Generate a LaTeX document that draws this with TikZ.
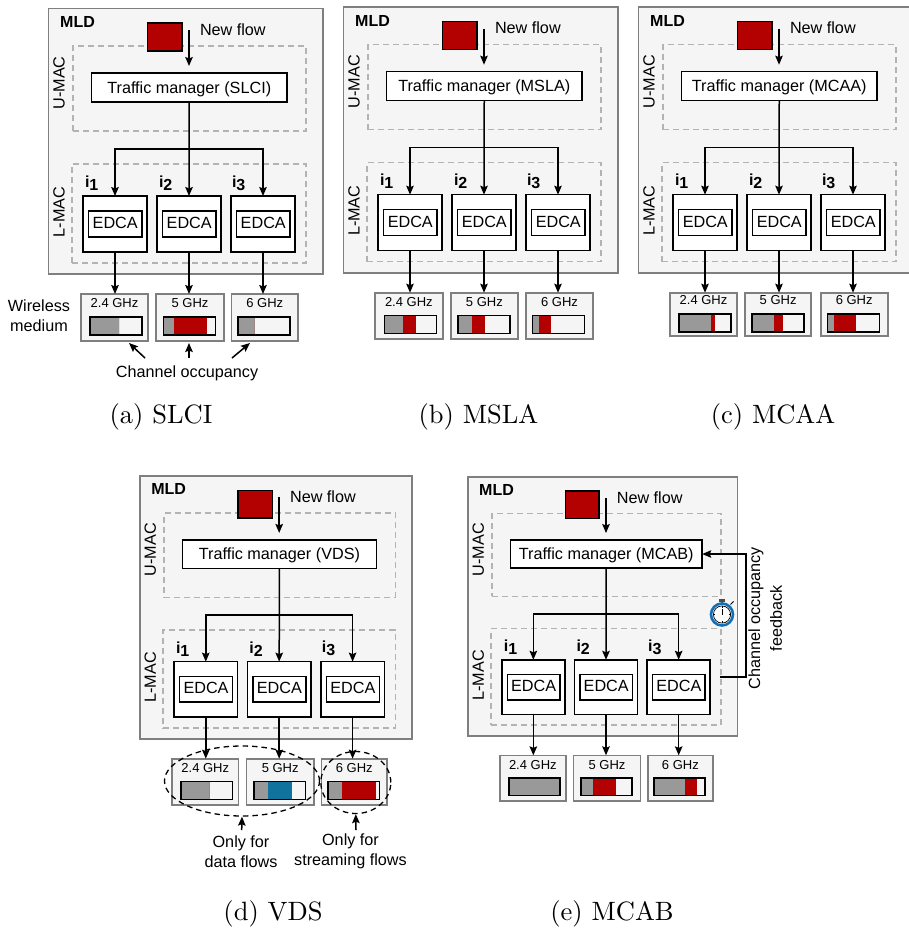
\documentclass[tikz,border=0pt]{standalone}
\usepackage{fontspec}
\setsansfont{Liberation Sans}
\usetikzlibrary{arrows.meta,shapes.geometric}
\definecolor{pgbg}{HTML}{F5F5F5}
\definecolor{edgegray}{HTML}{7F7F7F}
\definecolor{dashgray}{HTML}{B3B3B3}
\definecolor{occgray}{HTML}{999999}
\definecolor{flowred}{HTML}{B30000}
\definecolor{flowblue}{HTML}{10739E}
\definecolor{watchblue}{HTML}{1170B8}
\tikzset{
  txt/.style={inner sep=0pt,outer sep=0pt,font=\sffamily\fontsize{16.2}{18}\selectfont,align=center},
  smalltxt/.style={inner sep=0pt,outer sep=0pt,font=\sffamily\fontsize{13}{14}\selectfont},
  boldtxt/.style={inner sep=0pt,outer sep=0pt,font=\sffamily\bfseries\fontsize{16}{18}\selectfont},
  mldbox/.style={draw=edgegray,fill=pgbg,line width=1.7pt},
  macbox/.style={draw=dashgray,dash pattern=on 6pt off 4pt,line width=1.4pt},
  whitebox/.style={draw=black,fill=white,line width=1.5pt},
  chanframe/.style={draw=edgegray,fill=pgbg,line width=1.7pt},
  flowbox/.style={draw=black,fill=flowred,line width=1.3pt},
  conn/.style={draw=black,line width=1.5pt},
  arr/.style={conn,-{Stealth[length=9pt,width=7.5pt,inset=1.5pt]}},
  capt/.style={scale=2.65,inner sep=0pt,font=\rmfamily},
  ring/.style={draw=black,dash pattern=on 5.5pt off 4pt,line width=1.3pt},
}
\newcommand{\boxat}[7]{%
  \pgfmathsetmacro\myw{abs(#5-#3)*\sx}\pgfmathsetmacro\myh{abs(#6-#4)*\sy}%
  \node[#2,minimum width=\myw pt,minimum height=\myh pt,inner sep=0pt,outer sep=0pt,font=\sffamily\fontsize{16.2}{18}\selectfont] (#1) at ({(#3+#5)/2},{(#4+#6)/2}) {#7};}
\newcommand{\panelbody}[2]{%
  \boxat{#1mld}{mldbox}{48.5}{8.5}{323}{274}{}
  \boxat{#1u}{macbox}{73}{46}{306}{131}{}
  \boxat{#1l}{macbox}{72}{164}{306}{263}{}
  \boxat{#1flow}{flowbox}{147.5}{23}{182}{51}{}
  \node[boldtxt] (#1mldt) at (77.5,22) {MLD};
  \node[txt,anchor=west] (#1nf) at (200,29.5) {New flow};
  \node[txt,rotate=90] (#1ut) at (59,83) {U-MAC};
  \node[txt,rotate=90] (#1lt) at (59,212) {L-MAC};
  \boxat{#1tm}{whitebox}{91.5}{73}{287}{102}{\raisebox{-5.7pt}[0pt][0pt]{Traffic manager (#2)}}
  \boxat{#1b1}{whitebox}{83}{196}{147}{252}{}
  \boxat{#1b2}{whitebox}{157}{196}{221}{252}{}
  \boxat{#1b3}{whitebox}{231}{196}{295}{252}{}
  \boxat{#1e1}{whitebox}{88.5}{211}{142}{237}{\raisebox{-4.5pt}[0pt][0pt]{EDCA}}
  \boxat{#1e2}{whitebox}{162.5}{211}{216}{237}{\raisebox{-4.5pt}[0pt][0pt]{EDCA}}
  \boxat{#1e3}{whitebox}{236.5}{211}{290}{237}{\raisebox{-4.5pt}[0pt][0pt]{EDCA}}
  \node[boldtxt,anchor=west] (#1i1) at (85,183) {i\raisebox{-3pt}{1}};
  \node[boldtxt,anchor=west] (#1i2) at (159,183) {i\raisebox{-3pt}{2}};
  \node[boldtxt,anchor=west] (#1i3) at (232,183) {i\raisebox{-3pt}{3}};
  \coordinate (#1fs) at (189,30);
  \coordinate (#1fe) at (189,66);
  \draw[arr] (#1fs) -- (#1fe);
  \coordinate (#1j) at (189.3,149);
  \draw[arr] (#1tm.south) -- (#1b2.north);
  \draw[arr] (#1j) -| (#1b1.north);
  \draw[arr] (#1j) -| (#1b3.north);
}
% prefix, index, x1, x2, label, gray fraction, colour fraction, colour
\newcommand{\chan}[8]{%
  \boxat{#1c#2}{chanframe}{#3}{294+\cy}{#4}{341+\cy}{}
  \node[smalltxt] (#1ct#2) at ({(#3+#4)/2},303.5+\cy) {#5};
  \pgfmathsetmacro\myc{(#3+#4)/2+(#2==1 ? 1.5 : (#2==2 ? -.3 : -.8))}
  \pgfmathsetmacro\myl{\myc-26}\pgfmathsetmacro\myr{\myc+26}
  \pgfmathsetmacro\myg{\myl+52*#6}\pgfmathsetmacro\myk{\myl+52*#7}
  \pgfmathsetmacro\myt{317+\cy}\pgfmathsetmacro\myb{335+\cy}
  \fill[pgbg] (\myl,\myt) rectangle (\myr,\myb);
  \fill[occgray] (\myl,\myt) rectangle (\myg,\myb);
  \fill[#8] (\myg,\myt) rectangle (\myk,\myb);
  \draw[black,line width=1.5pt] (\myl,\myt) rectangle (\myr,\myb);
  \draw[arr] (#1b#2.south) -- (#1b#2.south |- #1c#2.north);
}
\begin{document}
\begin{tikzpicture}[x=1pt,y=-1pt]
\useasboundingbox (0,0) rectangle (908,929);
\def\cy{0}
% (a)
\begin{scope}[shift={(0,0)}]
  \def\sx{1}\def\sy{1}
  \panelbody{a}{SLCI}
  \chan{a}{1}{81}{148}{2.4 GHz}{.56}{.56}{flowred}
  \chan{a}{2}{156}{224}{5 GHz}{.19}{.83}{flowred}
  \chan{a}{3}{231.5}{298}{6 GHz}{.32}{.32}{flowred}
  \node[txt] (wm) at (39,316) {Wireless\\[2pt]medium};
  \node[txt] (occ) at (187,373) {Channel occupancy};
  \coordinate (o1s) at (145,358); \coordinate (o1e) at (129,343);
  \coordinate (o2s) at (189,358); \coordinate (o2e) at (189,343);
  \coordinate (o3s) at (232,358); \coordinate (o3e) at (250,343);
  \draw[arr] (o1s) -- (o1e);
  \draw[arr] (o2s) -- (o2e);
  \draw[arr] (o3s) -- (o3e);
\end{scope}
\node[capt] (capa) at (161,417) {(a) SLCI};
% (b)
\begin{scope}[shift={(295,-1.3)}]
  \def\sx{1}\def\sy{1}\def\cy{-.4}
  \panelbody{b}{MSLA}
  \chan{b}{1}{80}{147.7}{2.4 GHz}{.365}{.607}{flowred}
  \chan{b}{2}{155.7}{223}{5 GHz}{.276}{.517}{flowred}
  \chan{b}{3}{230.7}{298.3}{6 GHz}{.117}{.359}{flowred}
\end{scope}
\node[capt] (capb) at (478.5,417) {(b) MSLA};
% (c)
\begin{scope}[shift={(590,-1.3)}]
  \def\sx{1}\def\sy{1}\def\cy{-1.7}
  \panelbody{c}{MCAA}
  \chan{c}{1}{79.7}{147.3}{2.4 GHz}{.607}{.69}{flowred}
  \chan{c}{2}{155.3}{221}{5 GHz}{.428}{.593}{flowred}
  \chan{c}{3}{230.7}{297.7}{6 GHz}{.125}{.548}{flowred}
\end{scope}
\node[capt] (capc) at (773,417) {(c) MCAA};
% (d)
\begin{scope}[shift={(91.7,467.6)}]
  \def\sx{.992}\def\sy{.99}
  \begin{scope}[x=.992pt,y=-.99pt]
  \panelbody{d}{VDS}
  \chan{d}{1}{81}{148}{2.4 GHz}{.558}{.558}{flowred}
  \chan{d}{2}{156}{224}{5 GHz}{.26}{.74}{flowblue}
  \chan{d}{3}{231.5}{298}{6 GHz}{.284}{.935}{flowred}
  \end{scope}
\end{scope}
\node[ring,draw,ellipse,minimum width=155pt,minimum height=70pt,inner sep=0pt] (r1) at (242,781) {};
\node[ring,draw,ellipse,minimum width=70pt,minimum height=62pt,inner sep=0pt] (r2) at (355.8,782.5) {};
\node[txt] (df) at (241,851.7) {Only for\\[2pt]data flows};
\node[txt] (sf) at (350.5,851.7) {Only for\\[2pt]streaming flows};
\coordinate (d1s) at (241.7,830);
\coordinate (d2s) at (356,830);
\draw[arr] (d1s) -- (r1.south);
\draw[arr] (d2s) -- (r2.south);
\node[capt] (capd) at (273,914) {(d) VDS};
% (e)
\begin{scope}[shift={(420.4,468.7)}]
  \def\sx{.982}\def\sy{.975}
  \begin{scope}[x=.982pt,y=-.975pt]
  \panelbody{e}{MCAB}
  \chan{e}{1}{81}{148}{2.4 GHz}{1}{1}{flowred}
  \chan{e}{2}{156}{224}{5 GHz}{.235}{.68}{flowred}
  \chan{e}{3}{231.5}{298}{6 GHz}{.6}{.84}{flowred}
  \end{scope}
\end{scope}
\coordinate (fbs) at (720,677);
\coordinate (fbb) at (746,677);
\draw[arr] (fbs) -- (fbb) |- (etm.east);
\node[txt,rotate=90] (fb1) at (756,618.5) {Channel occupancy};
\node[txt,rotate=90] (fb2) at (776,618.5) {feedback};
% stopwatch
\fill[black!70] (719,598.5) rectangle (725,601.5);
\fill[black!70] (720.8,601) rectangle (723.2,604);
\draw[black,line width=1pt] (730.5,604.5) -- (733.5,601.5);
\draw[watchblue,fill=white,line width=2.6pt] (722,614.5) circle (11);
\draw[black,line width=.7pt] (722,614.5) circle (8.6);
\draw[black,line width=.9pt] (722,614.5) -- (722,608.5);
\foreach \a in {0,90,180,270} \draw[black,line width=.6pt] (722,614.5) ++(\a:8.6) -- ++(\a:-2);
\node[capt] (cape) at (612,914) {(e) MCAB};
\end{tikzpicture}
\end{document}
